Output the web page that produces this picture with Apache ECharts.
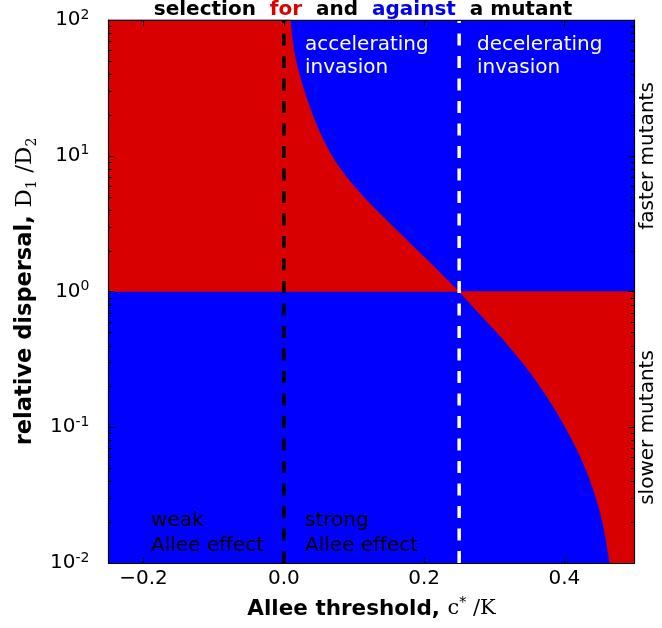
<!DOCTYPE html>
<html><head><meta charset="utf-8">
<script src="https://cdn.jsdelivr.net/npm/echarts@6/dist/echarts.min.js"></script>
<style>html,body{margin:0;padding:0;background:#fff}#c{width:662px;height:628px}</style>
</head><body><div id="c"></div>
<script>
// ---- data ----
const xRange = [-0.25, 0.5];
const yRange = [0.01, 100];
const xTicks = [-0.2, 0.0, 0.2, 0.4];
const yTicks = [0.01, 0.1, 1, 10, 100];
const yMinorTicks = [0.02,0.03,0.04,0.05,0.06,0.07,0.08,0.09,
                     0.2,0.3,0.4,0.5,0.6,0.7,0.8,0.9,
                     2,3,4,5,6,7,8,9,
                     20,30,40,50,60,70,80,90];
// boundary of "selection for" region above D1/D2 = 1 (c*/K, D1/D2)
const upperX = [0.0095,0.0128,0.0171,0.0231,0.0302,0.0384,0.0476,0.0586,0.0720,0.0887,0.1090,0.1317,0.1559,0.1802,0.2044,0.2282,0.25];
const upperD = [100,67.3,50.7,38.2,28.8,21.7,16.4,12.4,9.31,7.02,5.29,3.98,3.00,2.26,1.71,1.285,1];
// boundary of "selection for" region below D1/D2 = 1
const lowerX = [0.25,0.2786,0.3006,0.3215,0.3411,0.3589,0.3752,0.3900,0.4036,0.4160,0.4270,0.4365,0.4447,0.4514,0.4568,0.4610,0.4646];
const lowerD = [1,0.690,0.520,0.392,0.296,0.223,0.168,0.127,0.0955,0.0719,0.0542,0.0409,0.0308,0.0232,0.0175,0.0132,0.01];
const neutralD = 1;
const weakStrongX = 0.0;
const accelDecelX = 0.25;

const RED = '#d80000', BLUE = '#0000ff';
const FONT = 'DejaVu Sans', SERIF = 'DejaVu Serif';

const upperCurve = upperX.map((x, i) => [x, upperD[i]]);
const lowerCurve = lowerX.map((x, i) => [x, lowerD[i]]);

// smooth path (Catmull-Rom -> cubic Bezier) through pixel points
function smoothSegs(px) {
  let d = '';
  for (let i = 0; i < px.length - 1; i++) {
    const p0 = px[Math.max(0, i - 1)], p1 = px[i], p2 = px[i + 1], p3 = px[Math.min(px.length - 1, i + 2)];
    const c1 = [p1[0] + (p2[0] - p0[0]) / 6, p1[1] + (p2[1] - p0[1]) / 6];
    const c2 = [p2[0] - (p3[0] - p1[0]) / 6, p2[1] - (p3[1] - p1[1]) / 6];
    d += ' C' + c1[0] + ' ' + c1[1] + ' ' + c2[0] + ' ' + c2[1] + ' ' + p2[0] + ' ' + p2[1];
  }
  return d;
}
// region = [lead corners..., curve (smoothed), trail corners...]
function regionSeries(lead, curve, trail, color) {
  return {
    type: 'custom', xAxisIndex: 0, yAxisIndex: 0, z: 1, silent: true,
    data: [[xRange[0], yRange[0]]],
    renderItem: function (params, api) {
      const L = lead.map(p => api.coord(p)), C = curve.map(p => api.coord(p)), T = trail.map(p => api.coord(p));
      let d = 'M' + (L.length ? L[0][0] + ' ' + L[0][1] : C[0][0] + ' ' + C[0][1]);
      for (let i = 1; i < L.length; i++) d += ' L' + L[i][0] + ' ' + L[i][1];
      if (C.length) { if (L.length) d += ' L' + C[0][0] + ' ' + C[0][1]; d += smoothSegs(C); }
      for (let i = 0; i < T.length; i++) d += ' L' + T[i][0] + ' ' + T[i][1];
      d += ' Z';
      return { type: 'path', shape: { pathData: d }, style: { fill: color, stroke: color, lineWidth: 0.5 } };
    }
  };
}
function vline(x, color) {
  return {
    type: 'line', xAxisIndex: 0, yAxisIndex: 0, z: 5, silent: true, symbol: 'none', animation: false,
    data: [[x, yRange[0]], [x, yRange[1]]],
    lineStyle: { color: color, width: 3.5, type: [12, 10.5], cap: 'butt' }
  };
}

const chart = echarts.init(document.getElementById('c'), null, { renderer: 'canvas' });
const supRich = {
  b: { fontFamily: FONT, fontSize: 20, lineHeight: 24, color: '#000', verticalAlign: 'middle' },
  s: { fontFamily: FONT, fontSize: 14, lineHeight: 9, color: '#000', verticalAlign: 'top' }
};
const yLabelFmt = v => '{b|10}{s|' + Math.round(Math.log10(v)) + '}';

const option = {
  animation: false,
  backgroundColor: '#fff',
  grid: { left: 108.5, right: 27.5, top: 20, bottom: 65, containLabel: false },
  xAxis: [{
    type: 'value', min: xRange[0], max: xRange[1], position: 'bottom', z: 10,
    axisLine: { show: true, onZero: false, lineStyle: { color: '#000', width: 1.2 } },
    axisTick: { show: true, inside: true, length: 6, customValues: xTicks, lineStyle: { color: '#000' } },
    axisLabel: { customValues: xTicks, margin: 6, color: '#000', fontFamily: FONT, fontSize: 20,
      formatter: v => (v < 0 ? '\u2212' : '') + Math.abs(v).toFixed(1) },
    splitLine: { show: false },
    name: '{b|Allee threshold, }{m|c}{s|*}{m| /K}', nameLocation: 'middle', nameGap: 33,
    nameTextStyle: { rich: {
      b: { fontFamily: FONT, fontWeight: 'bold', fontSize: 21.5, color: '#000', lineHeight: 26 },
      m: { fontFamily: SERIF, fontSize: 21, color: '#000', lineHeight: 26 },
      s: { fontFamily: SERIF, fontSize: 14, color: '#000', lineHeight: 12, verticalAlign: 'top' } } }
  }, {
    type: 'value', min: xRange[0], max: xRange[1], position: 'top', z: 10,
    axisLine: { show: true, onZero: false, lineStyle: { color: '#000', width: 1.2 } },
    axisTick: { show: true, inside: true, length: 6, customValues: xTicks, lineStyle: { color: '#000' } },
    axisLabel: { show: false }, splitLine: { show: false }
  }],
  yAxis: [{
    type: 'log', logBase: 10, min: yRange[0], max: yRange[1], position: 'left', z: 10,
    axisLine: { show: true, onZero: false, lineStyle: { color: '#000', width: 1.2 } },
    axisTick: { show: true, inside: true, length: 6, customValues: yTicks, lineStyle: { color: '#000' } },
    axisLabel: { customValues: yTicks, margin: 19, formatter: yLabelFmt, rich: supRich },
    splitLine: { show: false }, minorTick: { show: false },
    name: '{b|relative dispersal, }{m|D}{d|1}{m| /}{m|D}{d|2}', nameLocation: 'middle', nameGap: 66, nameRotate: 90,
    nameTextStyle: { rich: {
      b: { fontFamily: FONT, fontWeight: 'bold', fontSize: 22.5, color: '#000', lineHeight: 28 },
      m: { fontFamily: SERIF, fontSize: 23, color: '#000', lineHeight: 28 },
      d: { fontFamily: SERIF, fontSize: 14, color: '#000', lineHeight: 14, verticalAlign: 'bottom' } } }
  }, {
    type: 'log', logBase: 10, min: yRange[0], max: yRange[1], position: 'right', z: 10,
    axisLine: { show: true, onZero: false, lineStyle: { color: '#000', width: 1.2 } },
    axisTick: { show: true, inside: true, length: 6, customValues: yTicks, lineStyle: { color: '#000' } },
    axisLabel: { show: false }, splitLine: { show: false }
  }],
  series: [
    regionSeries([[xRange[0], yRange[0]], [xRange[1], yRange[0]], [xRange[1], yRange[1]], [xRange[0], yRange[1]]], [], [], BLUE),
    regionSeries([[xRange[0], yRange[1]]], upperCurve, [[xRange[0], neutralD]], RED),
    regionSeries([[xRange[1], yRange[0]], [xRange[1], neutralD]], upperCurve.length ? lowerCurve : [], [], RED),
    vline(weakStrongX, '#000'),
    vline(accelDecelX, '#fff'),
    {
      type: 'custom', xAxisIndex: 0, yAxisIndex: 0, z: 11, silent: true,
      data: yMinorTicks.map(v => [xRange[0], v]),
      renderItem: function (params, api) {
        const v = api.value(1);
        const a = api.coord([xRange[0], v]);
        const b = api.coord([xRange[1], v]);
        const y = Math.round(a[1]) + 0.5;
        return { type: 'group', children: [
          { type: 'line', shape: { x1: a[0], y1: y, x2: a[0] + 3.5, y2: y }, style: { stroke: '#000', lineWidth: 1 } },
          { type: 'line', shape: { x1: b[0], y1: y, x2: b[0] - 3.5, y2: y }, style: { stroke: '#000', lineWidth: 1 } }
        ] };
      }
    }
  ],
  graphic: [
    { type: 'text', x: 363, y: 9.5, z: 20, style: {
      text: '{k|selection  }{r|for}{k|  and  }{u|against}{k|  a mutant}', align: 'center', verticalAlign: 'middle',
      rich: {
        k: { fontFamily: FONT, fontWeight: 'bold', fontSize: 20, fill: '#000' },
        r: { fontFamily: FONT, fontWeight: 'bold', fontSize: 20, fill: '#dd0000' },
        u: { fontFamily: FONT, fontWeight: 'bold', fontSize: 20, fill: '#0000f0' } } } },
    { type: 'text', x: 305, y: 32.7, z: 20, style: { text: 'accelerating\ninvasion', fill: '#fff', font: '20px "DejaVu Sans"', lineHeight: 23.5, align: 'left', verticalAlign: 'top' } },
    { type: 'text', x: 477, y: 32.7, z: 20, style: { text: 'decelerating\ninvasion', fill: '#fff', font: '20px "DejaVu Sans"', lineHeight: 23.5, align: 'left', verticalAlign: 'top' } },
    { type: 'text', x: 151, y: 509, z: 20, style: { text: 'weak\nAllee effect', fill: '#000', font: '20px "DejaVu Sans"', lineHeight: 24.5, align: 'left', verticalAlign: 'top' } },
    { type: 'text', x: 305, y: 509, z: 20, style: { text: 'strong\nAllee effect', fill: '#000', font: '20px "DejaVu Sans"', lineHeight: 24.5, align: 'left', verticalAlign: 'top' } },
    { type: 'text', x: 648, y: 156, rotation: Math.PI / 2, z: 20, style: { text: 'faster mutants', fill: '#000', font: '20px "DejaVu Sans"', align: 'center', verticalAlign: 'middle' } },
    { type: 'text', x: 648, y: 427.5, rotation: Math.PI / 2, z: 20, style: { text: 'slower mutants', fill: '#000', font: '20px "DejaVu Sans"', align: 'center', verticalAlign: 'middle' } }
  ]
};
chart.setOption(option);
</script></body></html>
